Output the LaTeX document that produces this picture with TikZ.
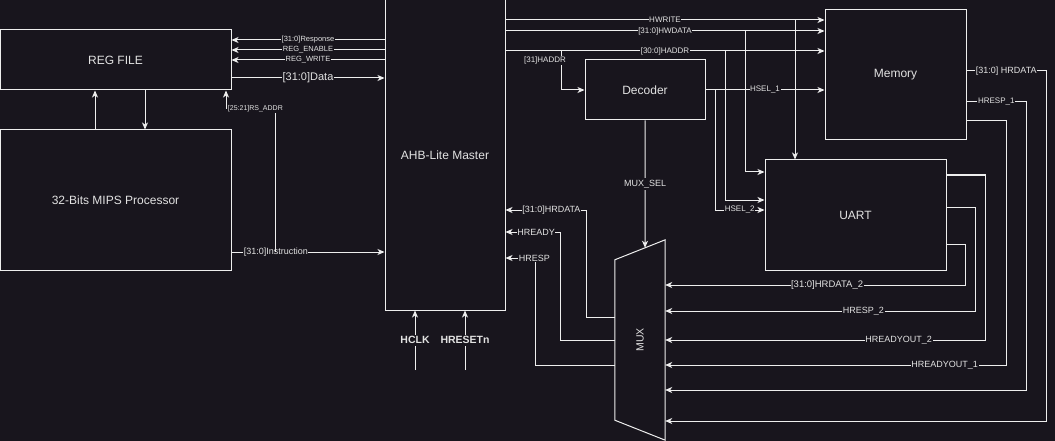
\documentclass[tikz,border=0pt]{standalone}
\usepackage{fontspec}
\setmainfont{Liberation Sans}
\usetikzlibrary{arrows.meta,calc}
\definecolor{bgc}{RGB}{24,21,29}
\definecolor{linec}{RGB}{238,238,238}
\definecolor{txtc}{RGB}{226,226,226}
\tikzset{
 blk/.style={draw=linec,fill=bgc,line width=1pt,text=txtc,inner sep=0pt,font=\fontsize{12}{14}\selectfont},
 wire/.style={draw=linec,line width=1pt},
 conn/.style={wire,-{Stealth[length=7pt,width=6pt,inset=2pt]}},
 lbl/.style={fill=bgc,text=txtc,inner sep=0.6pt,font=\fontsize{8}{9}\selectfont},
 lblm/.style={lbl,font=\fontsize{9}{10}\selectfont},
 lblb/.style={lbl,inner sep=2pt,font=\bfseries\fontsize{10.5}{12}\selectfont}
}
\begin{document}
\begin{tikzpicture}[x=1pt,y=-1pt]
 \fill[bgc] (0,0) rectangle (1055,441);
 \useasboundingbox (0,0) rectangle (1055,441);

 \node[blk,minimum width=231,minimum height=60] (regfile) at (115.5,60) {REG FILE};
 \node[blk,minimum width=231,minimum height=140] (cpu) at (115.5,200) {32-Bits MIPS Processor};
 \node[blk,minimum width=120,minimum height=310] (ahb) at (445,155) {AHB-Lite Master};
 \node[blk,minimum width=120,minimum height=60] (dec) at (645,90) {Decoder};
 \node[blk,minimum width=141,minimum height=130] (mem) at (895.5,75) {Memory};
 \node[blk,minimum width=181,minimum height=110] (uart) at (855.5,215) {UART};
 \node[minimum width=50,minimum height=200,inner sep=0pt] (mux) at (640,340) {};
 \coordinate (M1) at ([yshift=-20pt]mux.north west);
 \coordinate (M2) at (mux.north east);
 \coordinate (M3) at (mux.south east);
 \coordinate (M4) at ([yshift=20pt]mux.south west);
 \draw[wire,fill=bgc] (M1) -- (M2) -- (M3) -- (M4) -- cycle;
 \node[text=txtc,rotate=90,font=\fontsize{10.5}{12}\selectfont] at (mux.center) {MUX};

 % master <-> reg file
 \draw[conn] (ahb.west |- 0,40) -- node[lbl,font=\fontsize{7.5}{9}\selectfont]{[31:0]Response} (regfile.east |- 0,40);
 \draw[conn] (ahb.west |- 0,50) -- node[lbl,font=\fontsize{7.5}{9}\selectfont]{REG\_ENABLE} (regfile.east |- 0,50);
 \draw[conn] (ahb.west |- 0,60) -- node[lbl,font=\fontsize{7.5}{9}\selectfont]{REG\_WRITE} (regfile.east |- 0,60);
 \draw[conn] (regfile.east |- 0,78) -- node[lbl,font=\fontsize{11}{12}\selectfont]{[31:0]Data} (ahb.west |- 0,78);

 \draw[conn] (cpu.north -| 95,0) -- (regfile.south -| 95,0);
 \draw[conn] (regfile.south -| 145,0) -- (cpu.north -| 145,0);
 \draw[conn] (cpu.east |- 0,252) -- node[lblm,pos=0.29]{[31:0]Instruction} (ahb.west |- 0,252);
 \coordinate (rs) at (275,252);
 \draw[conn] (rs) -- (275,109) -- node[lbl,pos=0.4,font=\fontsize{7}{8}\selectfont]{[25:21]RS\_ADDR} (226,109) -- (regfile.south -| 226,0);

 % bus to slaves
 \draw[conn] (ahb.east |- 0,20) -- node[lbl]{HWRITE} (mem.west |- 0,20);
 \draw[conn] (ahb.east |- 0,31) -- node[lbl]{[31:0]HWDATA} (mem.west |- 0,31);
 \draw[conn] (ahb.east |- 0,51) -- node[lbl]{[30:0]HADDR} (mem.west |- 0,51);
 \coordinate (h31) at (561,51);
 \draw[conn] (h31) -- node[lbl,pos=0.25,xshift=-16pt]{[31]HADDR} (h31 |- dec.west) -- (dec.west);
 \draw[conn] (dec.east) -- node[lbl]{HSEL\_1} (mem.west |- dec.east);

 \coordinate (bw) at (795,20);
 \coordinate (bd) at (745,31);
 \coordinate (ba) at (725,51);
 \coordinate (bs) at (715,90);
 \draw[conn] (bw) -- (uart.north -| bw);
 \draw[conn] (bd) |- (uart.west |- 0,172);
 \draw[conn] (ba) |- (uart.west |- 0,200);
 \draw[conn] (bs) |- node[lbl,pos=0.75]{HSEL\_2} (uart.west |- 0,210);

 % select
 \coordinate (ms) at ($(M1)!0.6!(M2)$);
 \draw[conn] (dec.south) -- node[lblm,inner sep=2pt]{MUX\_SEL} (ms);

 % slave responses
 \draw[conn] (mem.east |- 0,71) -- node[lblm]{[31:0] HRDATA} (1046,71) -- (1046,421) -- (mux.east |- 0,421);
 \draw[conn] (mem.east |- 0,102) -- node[lbl]{HRESP\_1} (1026,102) -- (1026,390) -- (mux.east |- 0,390);
 \foreach \ya/\xb/\yb/\p/\t in {121/1006/365/0.18/HREADYOUT\_1}
  \draw[conn] (mem.east |- 0,\ya) -| (\xb,\yb) -- node[lblm,pos=\p]{\t} (mux.east |- 0,\yb);
 \foreach \ya/\xb/\yb/\p/\t in {175/985/340/0.27/HREADYOUT\_2, 207/975/311/0.36/HRESP\_2}
  \draw[conn] (uart.east |- 0,\ya) -| (\xb,\yb) -- node[lblm,pos=\p]{\t} (mux.east |- 0,\yb);
 \draw[conn] (uart.east |- 0,244) -| (965,285) -- node[lbl,pos=0.46,font=\fontsize{9.5}{11}\selectfont]{[31:0]HRDATA\_2} (mux.east |- 0,285);

 % mux to master
 \draw[conn] (mux.west |- 0,317) -| (586,210) -- node[lblm,pos=0.43]{[31:0]HRDATA} (ahb.east |- 0,210);
 \draw[conn] (mux.west |- 0,340) -| (560,232) -- node[lblm,pos=0.44]{HREADY} (ahb.east |- 0,232);
 \draw[conn] (mux.west |- 0,365) -| (535,258) -- node[lblm,pos=0.02]{HRESP} (ahb.east |- 0,258);

 % clock and reset
 \coordinate (clk) at (415,370);
 \coordinate (rst) at (465,370);
 \draw[conn] (clk) -- node[lblb]{HCLK} (ahb.south -| clk);
 \draw[conn] (rst) -- node[lblb]{HRESETn} (ahb.south -| rst);
\end{tikzpicture}
\end{document}
